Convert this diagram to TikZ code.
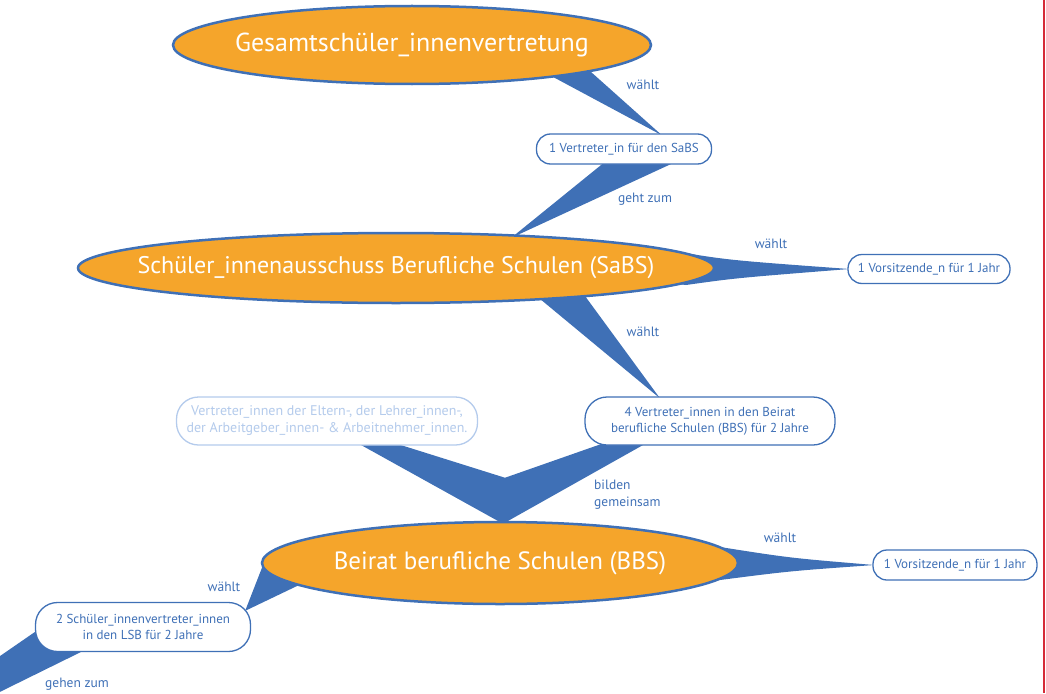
\documentclass[tikz,border=0pt]{standalone}
\usepackage{fontspec}
\setmainfont{PT Sans}
\usetikzlibrary{shapes.geometric,calc,backgrounds}

\definecolor{orgfill}{HTML}{F5A52B}
\definecolor{orgblue}{HTML}{3F70B6}
\definecolor{orgpale}{HTML}{B4CBEC}
\definecolor{orgred}{HTML}{D52B38}

% text of a body, kept from widening its ellipse
\newcommand{\gremtext}[1]{\makebox[0pt]{#1}}

\tikzset{
  gremium/.style={ellipse, draw=orgblue, line width=2.5pt, fill=orgfill,
    text=white, font=\fontsize{25}{30}\selectfont, inner sep=0pt},
  posten/.style={rectangle, rounded corners=14pt, draw=orgblue, line width=1.3pt,
    fill=white, text=orgblue, font=\fontsize{13}{16}\selectfont, align=center, inner sep=0pt},
  blass/.style={posten, draw=orgpale, text=orgpale, font=\fontsize{14}{17}\selectfont},
  keil/.style={fill=orgblue},
  verb/.style={text=orgblue, font=\fontsize{13.5}{17}\selectfont, inner sep=0pt, align=left}
}

\begin{document}
\begin{tikzpicture}[x=1pt,y=-1pt]
    % frame of the picture
      \useasboundingbox (0,0) rectangle (1046,693);

    % Draw the bodies
      \node[gremium, minimum width=478, minimum height=78, font=\fontsize{26}{30}\selectfont] (gsv) at (412,45)
        {\gremtext{Gesamtschüler\_innenvertretung}};
      \node[gremium, minimum width=636, minimum height=70, font=\fontsize{24}{30}\selectfont] (sabs) at (396,268)
        {\gremtext{Schüler\_innenausschuss Berufliche Schulen (SaBS)}};
      \node[gremium, minimum width=476, minimum height=82] (bbs) at (500,563)
        {\gremtext{Beirat berufliche Schulen (BBS)}};

    % Draw the posts
      \node[posten, minimum width=175, minimum height=30] (vsabs) at (624,149) {1 Vertreter\_in für den SaBS};
      \node[posten, minimum width=162, minimum height=29] (vors1) at (929,269) {1 Vorsitzende\_n für 1 Jahr};
      \node[posten, rounded corners=22pt, minimum width=250, minimum height=48] (vbbs) at (710,421)
        {4 Vertreter\_innen in den Beirat\\berufliche Schulen (BBS) für 2 Jahre};
      \node[blass, rounded corners=22pt, minimum width=301, minimum height=48] (vext) at (327,421)
        {Vertreter\_innen der Eltern-, der Lehrer\_innen-,\\der Arbeitgeber\_innen- \& Arbeitnehmer\_innen.};
      \node[posten, minimum width=164, minimum height=30] (vors2) at (955,565) {1 Vorsitzende\_n für 1 Jahr};
      \node[posten, rounded corners=22pt, minimum width=215, minimum height=49] (lsb) at (143,627)
        {2 Schüler\_innenvertreter\_innen\\in den LSB für 2 Jahre};

    % Draw the verbs
      \node[verb] (w1) at (643,85) {wählt};
      \node[verb] (g1) at (645,199) {geht zum};
      \node[verb] (w2) at (771,244) {wählt};
      \node[verb] (w3) at (643,332) {wählt};
      \node[verb, anchor=west] (bg) at (594,495) {bilden\\gemeinsam};
      \node[verb] (w4) at (780,538) {wählt};
      \node[verb] (w5) at (224,587) {wählt};
      \node[verb] (g2) at (77,684) {gehen zum};

    % Draw the wedges behind everything
      \begin{pgfonlayer}{background}
      \clip (0,0) rectangle (1046,693);
      \fill[keil] ($(gsv.center)+(115,18)$) -- ($(vsabs.north)+(38,2)$) -- ($(gsv.center)+(160,10)$) -- cycle;
      \fill[keil] ($(vsabs.south)+(-20,-2)$) -- ($(sabs.center)+(115,-30)$) -- ($(vsabs.south)+(50,-2)$) -- cycle;
      \fill[keil] ($(sabs.center)+(230,-12)$) -- ($(sabs.center)+(272,-18)$)
        .. controls ($(sabs.center)+(330,-8)$) .. ($(vors1.west)+(2,0)$)
        .. controls ($(sabs.center)+(340,10)$) .. ($(sabs.center)+(290,17)$)
        -- ($(sabs.center)+(230,10)$) -- cycle;
      \fill[keil] ($(sabs.center)+(126,16)$) -- ($(vbbs.north)+(-50,2)$) -- ($(sabs.center)+(178,13)$) -- cycle;
      \fill[keil] ($(vext.south)+(28,-4)$) -- ($(bbs.north)+(3,3)$) -- ($(vbbs.south)+(-61,-4)$)
        -- ($(vbbs.south)+(-102,-4)$) -- ($(bbs.north)+(5,-43)$) -- ($(vext.south)+(63,-4)$) -- cycle;
      \fill[keil] ($(bbs.center)+(180,-15)$) -- ($(bbs.center)+(220,-16)$)
        .. controls ($(bbs.center)+(290,-5)$) .. ($(vors2.west)+(2,0)$)
        .. controls ($(bbs.center)+(290,8)$) .. ($(bbs.center)+(220,17)$)
        -- ($(bbs.center)+(180,15)$) -- cycle;
      \fill[keil] ($(bbs.center)+(-235,-3)$) -- ($(lsb.north east)+(-6,9)$) -- ($(bbs.center)+(-180,12)$) -- cycle;
      \fill[keil] ($(lsb.center)+(-98,-2)$) -- ($(lsb.center)+(-58,23)$) -- (-181,781) -- cycle;
      \end{pgfonlayer}

    % Draw the page border
      \draw[orgred, line width=2pt] (1044,0) -- (1044,693);
\end{tikzpicture}
\end{document}
